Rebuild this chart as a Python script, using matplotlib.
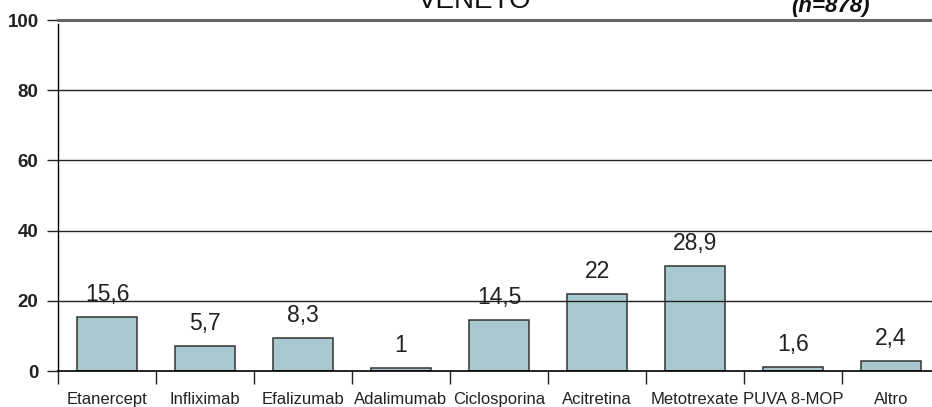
import matplotlib
matplotlib.use('Agg')
import matplotlib.pyplot as plt
from matplotlib.ticker import FixedLocator

categories = ['Etanercept', 'Infliximab', 'Efalizumab', 'Adalimumab', 'Ciclosporina',
              'Acitretina', 'Metotrexate', 'PUVA 8-MOP', 'Altro']
# bar heights as drawn in the picture, and the printed value labels
heights = [15.4, 7.0, 9.3, 0.9, 14.6, 22.0, 30.0, 1.2, 2.8]
value_labels = ['15,6', '5,7', '8,3', '1', '14,5', '22', '28,9', '1,6', '2,4']
yticks = [0, 20, 40, 60, 80, 100]

plt.rcParams['font.family'] = ['Liberation Sans', 'DejaVu Sans']

fig = plt.figure(figsize=(9.32, 4.07), dpi=100)
ax = fig.add_axes([58 / 932, 1 - 371 / 407, 1 - 58 / 932, (371 - 20) / 407])

x = range(len(categories))
ax.bar(x, heights, width=0.62, color='#a9c9d0', edgecolor='#333333', linewidth=1.1, zorder=2)

for i, (h, lab) in enumerate(zip(heights, value_labels)):
    ax.annotate(lab, (i, h), xytext=(0, 8), textcoords='offset points',
                ha='center', va='bottom', fontsize=16.5, color='#222222')

ax.set_xlim(-0.5, 8.418)
ax.set_ylim(0, 100)

# gridlines drawn over the bars
for v in yticks[1:-1]:
    ax.axhline(v, color='#222222', linewidth=1.0, zorder=3)
ax.axhline(100, color='#666666', linewidth=2.2, zorder=3, clip_on=False)

for s in ['top', 'right']:
    ax.spines[s].set_visible(False)
ax.spines['left'].set_bounds(0, 99)
ax.spines['left'].set_linewidth(1.0)
ax.spines['bottom'].set_linewidth(1.2)
ax.spines['bottom'].set_zorder(4)

ax.set_yticks(yticks)
ax.set_yticklabels([str(v) for v in yticks], fontweight='bold', fontsize=13.5, color='#222222')
ax.tick_params(axis='y', length=8, width=1.0, direction='out', pad=6, colors='#222222')

ax.set_xticks(list(x))
ax.set_xticklabels(categories, fontsize=12, color='#222222')
ax.tick_params(axis='x', which='major', length=0, pad=15)
ax.xaxis.set_minor_locator(FixedLocator([i - 0.5 for i in range(len(categories) + 1)]))
ax.tick_params(axis='x', which='minor', length=9, width=1.0, direction='out', color='#222222')

fig.text(475 / 932, 1 - 8 / 407, 'VENETO', ha='center', va='baseline', fontsize=20, color='#111111')
fig.text(830 / 932, 1 - 12 / 407, '(n=878)', ha='center', va='baseline', fontsize=16,
         fontweight='bold', fontstyle='italic', color='#111111')

fig.savefig('out.png', dpi=100)
